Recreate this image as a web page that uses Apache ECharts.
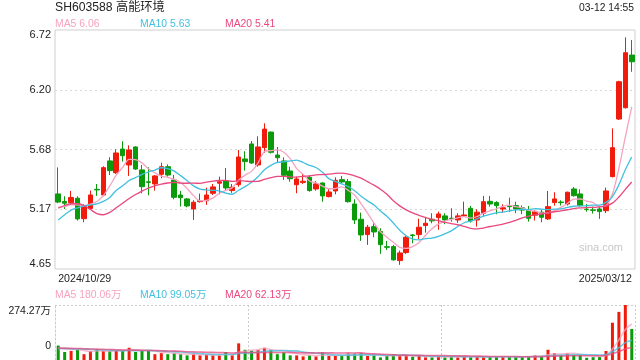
<!DOCTYPE html>
<html><head><meta charset="utf-8">
<script src="https://cdn.jsdelivr.net/npm/echarts@6/dist/echarts.min.js"></script>
<style>html,body{margin:0;padding:0;background:#fff}#c{width:640px;height:360px}</style>
</head><body><div id="c"></div>
<script>
const dates = ['2024/10/29','2024/10/30','2024/10/31','2024/11/01','2024/11/04','2024/11/05','2024/11/06','2024/11/07','2024/11/08','2024/11/11','2024/11/12','2024/11/13','2024/11/14','2024/11/15','2024/11/18','2024/11/19','2024/11/20','2024/11/21','2024/11/22','2024/11/25','2024/11/26','2024/11/27','2024/11/28','2024/11/29','2024/12/02','2024/12/03','2024/12/04','2024/12/05','2024/12/06','2024/12/09','2024/12/10','2024/12/11','2024/12/12','2024/12/13','2024/12/16','2024/12/17','2024/12/18','2024/12/19','2024/12/20','2024/12/23','2024/12/24','2024/12/25','2024/12/26','2024/12/27','2024/12/30','2024/12/31','2025/01/02','2025/01/03','2025/01/06','2025/01/07','2025/01/08','2025/01/09','2025/01/10','2025/01/13','2025/01/14','2025/01/15','2025/01/16','2025/01/17','2025/01/20','2025/01/21','2025/01/22','2025/01/23','2025/01/24','2025/01/27','2025/02/05','2025/02/06','2025/02/07','2025/02/10','2025/02/11','2025/02/12','2025/02/13','2025/02/14','2025/02/17','2025/02/18','2025/02/19','2025/02/20','2025/02/21','2025/02/24','2025/02/25','2025/02/26','2025/02/27','2025/02/28','2025/03/03','2025/03/04','2025/03/05','2025/03/06','2025/03/07','2025/03/10','2025/03/11','2025/03/12'];
const opens = [5.30,5.235,5.225,5.263,5.086,5.173,5.34,5.291,5.586,5.484,5.689,5.551,5.707,5.508,5.405,5.387,5.47,5.536,5.421,5.291,5.257,5.17,5.233,5.242,5.306,5.393,5.412,5.329,5.38,5.603,5.733,5.551,5.701,5.836,5.637,5.586,5.499,5.38,5.40,5.444,5.343,5.395,5.277,5.326,5.424,5.407,5.213,5.081,4.948,5.017,4.974,4.843,4.844,4.723,4.792,4.945,4.948,5.026,5.081,5.095,5.11,5.09,5.075,5.11,5.176,5.075,5.133,5.236,5.225,5.17,5.195,5.199,5.18,5.161,5.116,5.142,5.084,5.225,5.23,5.213,5.343,5.30,5.168,5.162,5.17,5.155,5.45,5.949,6.047,6.503];
const closes = [5.23,5.22,5.27,5.084,5.19,5.291,5.335,5.528,5.502,5.655,5.631,5.681,5.516,5.363,5.40,5.456,5.536,5.464,5.271,5.268,5.196,5.228,5.242,5.291,5.361,5.406,5.352,5.358,5.62,5.58,5.568,5.707,5.862,5.661,5.614,5.462,5.432,5.43,5.41,5.329,5.387,5.283,5.317,5.418,5.404,5.233,5.075,4.945,5.012,4.971,4.861,4.838,4.729,4.789,4.925,4.94,5.012,5.046,5.067,5.127,5.075,5.087,5.11,5.118,5.066,5.142,5.233,5.213,5.199,5.18,5.19,5.17,5.16,5.089,5.147,5.098,5.19,5.257,5.225,5.315,5.285,5.199,5.165,5.158,5.147,5.326,5.701,6.272,6.523,6.445];
const lows = [5.22,5.17,5.205,5.07,5.055,5.161,5.283,5.28,5.464,5.473,5.58,5.456,5.508,5.306,5.289,5.329,5.436,5.45,5.254,5.19,5.185,5.075,5.225,5.205,5.291,5.297,5.334,5.31,5.363,5.502,5.56,5.536,5.657,5.65,5.571,5.421,5.406,5.306,5.387,5.32,5.329,5.233,5.27,5.297,5.393,5.225,5.04,4.893,4.859,4.925,4.781,4.815,4.723,4.686,4.781,4.873,4.91,4.965,5.046,4.99,5.038,5.06,5.05,5.104,5.052,5.017,5.11,5.19,5.124,5.14,5.144,5.133,5.125,5.06,5.07,5.055,5.075,5.199,5.20,5.20,5.277,5.19,5.147,5.13,5.084,5.135,5.444,5.94,6.04,6.358];
const highs = [5.53,5.28,5.326,5.28,5.21,5.329,5.386,5.54,5.618,5.687,5.756,5.721,5.713,5.551,5.531,5.464,5.571,5.556,5.464,5.326,5.265,5.245,5.303,5.355,5.386,5.45,5.525,5.386,5.681,5.67,5.759,5.799,5.912,5.84,5.707,5.617,5.536,5.45,5.473,5.46,5.412,5.40,5.346,5.444,5.456,5.43,5.254,5.138,5.032,5.046,5.003,4.893,4.859,4.809,4.937,4.953,5.086,5.098,5.133,5.147,5.133,5.176,5.133,5.233,5.196,5.167,5.283,5.283,5.237,5.21,5.268,5.233,5.20,5.196,5.16,5.161,5.326,5.315,5.245,5.32,5.36,5.34,5.213,5.19,5.19,5.355,5.868,6.28,6.656,6.633];
const volumes = [72,40,45,52,29,45,52,45,45,49,49,61,40,49,45,29,34,29,34,29,23,29,23,27,23,23,40,23,83,51,47,51,61,51,29,38,23,23,18,23,18,38,20,20,20,32,32,34,20,23,13,20,29,20,23,16,20,13,13,20,13,20,13,16,16,16,16,16,16,16,16,16,16,20,23,20,51,34,23,33,25,25,11,14,15,45,186,240,274.27,155];
// moving-average values before enough days exist in the window
const ma5Head = [5.185,5.19,5.205,5.205];
const ma10Head = [5.075,5.12,5.16,5.18,5.195,5.205,5.215,5.235,5.27];
const ma20Head = [5.176,5.20,5.215,5.215,5.20,5.165,5.13,5.12,5.14,5.18,5.22,5.26,5.295,5.325,5.35,5.37,5.385,5.395,5.40];
const volMa5Head = [58,55,52,52];
const volMa10Head = [58,57,56,55,54,53,51,50,49];
const volMa20Head = [60,59,58,57,56,55,54,53,52,51,50,49.5,49,48,47.5,47,46,45,44.5];
const priceTicks = [4.65,5.1675,5.685,6.2025,6.72];
const priceTickLabels = ['4.65','5.17','5.68','6.20','6.72'];
const volTicks = [0,274.27];
const volTickLabels = ['0','274.27万'];
const titleText = 'SH603588 高能环境';
const timeText = '03-12 14:55';
const priceLegend = ['MA5 6.06','MA10 5.63','MA20 5.41'];
const volLegend = ['MA5 180.06万','MA10 99.05万','MA20 62.13万'];

const RED = '#f11b0c', GREEN = '#0a9b0a';
const C5 = '#f5a3c1', C10 = '#42c0e0', C20 = '#e9487e';
const FF = '"Liberation Sans", Arial, "Noto Sans CJK SC", sans-serif';

function ma(head, arr, n) {
  return arr.map((v, i) => {
    if (i < n - 1) return head[i];
    let s = 0; for (let k = i - n + 1; k <= i; k++) s += arr[k];
    return +(s / n).toFixed(4);
  });
}
function tickFmt(ticks, labels) {
  return function (v) {
    const i = ticks.findIndex(t => Math.abs(t - v) < 1e-6);
    if (i < 0) return '';
    if (i === ticks.length - 1) return '{t|' + labels[i] + '}';
    if (i === 0) return '{b|' + labels[i] + '}';
    return labels[i];
  };
}
const chart = echarts.init(document.getElementById('c'));
const lineS = (name, data, color, xi, w, op) => ({
  name, type: 'line', data, xAxisIndex: xi, yAxisIndex: xi, showSymbol: false, symbol: 'none',
  smooth: 0.3, lineStyle: { color, width: w, opacity: op }, itemStyle: { color }, silent: true, z: 3
});
const legendTexts = (arr, y) => arr.map((t, i) => ({
  type: 'text', x: [55, 140, 225][i], y, style: { text: t, fill: [C5, C10, C20][i], font: '10.4px ' + FF, verticalAlign: 'middle', align: 'left' }
}));
chart.setOption({
  animation: false,
  grid: [
    { left: 55, right: 5, top: 30, height: 239, show: true, borderColor: '#cfcfcf', borderWidth: 1 },
    { left: 55, right: 5, top: 305, bottom: -2 }
  ],
  xAxis: [
    { type: 'category', gridIndex: 0, data: dates, boundaryGap: true,
      axisLine: { show: false }, axisTick: { show: false }, splitLine: { show: false },
      axisLabel: { interval: (i) => i === 0 || i === dates.length - 1, alignMinLabel: 'left', alignMaxLabel: 'right',
        color: '#222', fontSize: 10.6, fontFamily: FF, margin: 5 } },
    { type: 'category', gridIndex: 1, data: dates, boundaryGap: true,
      axisLine: { show: false }, axisTick: { show: false }, axisLabel: { show: false },
      splitLine: { show: true, interval: (i) => i === 30 || i === 60, lineStyle: { color: '#cccccc', type: [2, 2] } } }
  ],
  yAxis: [
    { type: 'value', gridIndex: 0, min: 4.65, max: 6.72,
      axisLine: { show: false }, axisTick: { show: false, customValues: priceTicks },
      splitLine: { show: true, showMinLine: false, showMaxLine: false, lineStyle: { color: '#d8d8d8', type: [2, 3] } },
      axisLabel: { customValues: priceTicks, formatter: tickFmt(priceTicks, priceTickLabels), margin: 4,
        color: '#222', fontSize: 11, fontFamily: FF,
        rich: { t: { padding: [10, 0, 0, 0], fontSize: 11, color: '#222', fontFamily: FF },
                b: { padding: [0, 0, 10, 0], fontSize: 11, color: '#222', fontFamily: FF } } } },
    { type: 'value', gridIndex: 1, min: 0, max: 274.27,
      axisLine: { show: true, lineStyle: { color: '#cccccc', type: [2, 2] } }, axisTick: { show: false, customValues: volTicks },
      splitLine: { show: true, showMinLine: false, showMaxLine: true, lineStyle: { color: '#cccccc', type: [2, 2] } },
      axisLabel: { customValues: volTicks, formatter: tickFmt(volTicks, volTickLabels), margin: 4,
        color: '#222', fontSize: 10.5, fontFamily: FF,
        rich: { t: { padding: [13, 0, 0, 0], fontSize: 10.5, color: '#222', fontFamily: FF },
                b: { padding: [0, 0, 27, 0], fontSize: 10.5, color: '#222', fontFamily: FF } } } }
  ],
  series: [
    { type: 'candlestick', xAxisIndex: 0, yAxisIndex: 0, barWidth: 5,
      data: dates.map((d, i) => [opens[i], closes[i], lows[i], highs[i]]),
      itemStyle: { color: RED, color0: GREEN, borderColor: RED, borderColor0: GREEN, borderWidth: 1 }, z: 2 },
    lineS('MA5', ma(ma5Head, closes, 5), C5, 0, 1.3, 1),
    lineS('MA10', ma(ma10Head, closes, 10), C10, 0, 1.3, 1),
    lineS('MA20', ma(ma20Head, closes, 20), C20, 0, 1.3, 1),
    { type: 'bar', xAxisIndex: 1, yAxisIndex: 1, barWidth: 3,
      data: volumes.map((v, i) => ({ value: v, itemStyle: { color: closes[i] >= opens[i] ? RED : GREEN } })), z: 2 },
    lineS('VMA5', ma(volMa5Head, volumes, 5), C5, 1, 1.6, 0.75),
    lineS('VMA10', ma(volMa10Head, volumes, 10), C10, 1, 1.6, 0.75),
    lineS('VMA20', ma(volMa20Head, volumes, 20), C20, 1, 1.6, 0.75)
  ],
  graphic: [
    { type: 'text', x: 55, y: 8, style: { text: titleText, fill: '#222', font: '12.2px ' + FF, verticalAlign: 'middle', align: 'left' } },
    { type: 'text', x: 634, y: 8, style: { text: timeText, fill: '#222', font: '10.3px ' + FF, verticalAlign: 'middle', align: 'right' } },
    ...legendTexts(priceLegend, 24),
    ...legendTexts(volLegend, 295),
    { type: 'text', x: 623, y: 248, z: 1, style: { text: 'sina.com', fill: '#c8c8c8', font: '11px ' + FF, verticalAlign: 'middle', align: 'right' } }
  ]
});
</script></body></html>
